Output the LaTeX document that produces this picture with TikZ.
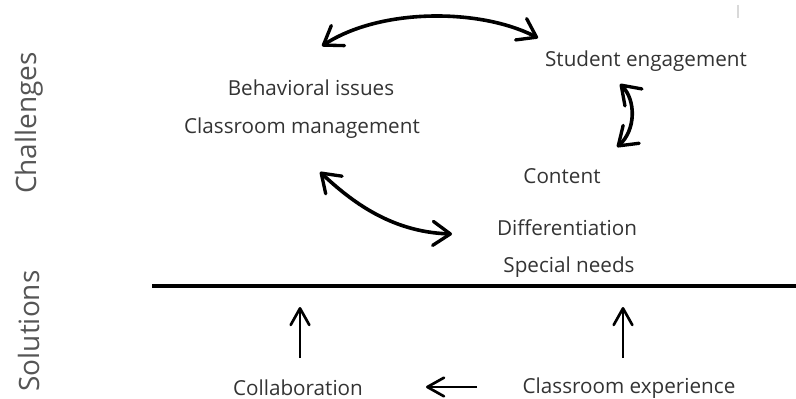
\documentclass[tikz,border=0pt]{standalone}
\usepackage{fontspec}
\setmainfont{Open Sans}
\usetikzlibrary{arrows.meta}
\begin{document}
\begin{tikzpicture}[x=0.75pt,y=-0.75pt,
  item/.style={text=txt,font=\fontsize{15.5}{18}\selectfont,inner sep=0pt},
  side/.style={text=lbl,font=\fontsize{21}{24}\selectfont,rotate=90,inner sep=0pt},
  link/.style={line width=2.7pt,line cap=round,{Straight Barb[length=13pt,width=18pt,line width=2.5pt,round]}-{Straight Barb[length=13pt,width=18pt,line width=2.5pt,round]}},
  push/.style={line width=2pt,-{Straight Barb[length=12.5pt,width=14pt,line width=2pt,round]}}]
\definecolor{txt}{HTML}{333333}
\definecolor{lbl}{HTML}{555555}
\useasboundingbox (0,0) rectangle (796,399);
\node[side] (chal) at (29,123) {Challenges};
\node[side] (sol) at (29,331) {Solutions};
\node[item] (beh) at (311,88) {Behavioral issues};
\node[item] (cm) at (302,128) {Classroom management};
\node[item] (se) at (646,61) {Student engagement};
\node[item] (con) at (562,176) {Content};
\node[item] (diff) at (567,228) {Differentiation};
\node[item] (sn) at (569,267) {Special needs};
\node[item] (col) at (298,388) {Collaboration};
\node[item] (cex) at (629,388) {Classroom experience};
\coordinate (a1) at (322,46);
\coordinate (a2) at (538,38);
\coordinate (b1) at (620,84);
\coordinate (b2) at (617,147);
\coordinate (c1) at (320,172);
\coordinate (c2) at (452,234);
\coordinate (d1) at (300,358);
\coordinate (d2) at (300,307);
\coordinate (e1) at (623,358);
\coordinate (e2) at (623,307);
\coordinate (f1) at (477,387);
\coordinate (f2) at (426,387);
\coordinate (l1) at (152,286);
\coordinate (l2) at (796,286);
\draw[link] (a1) .. controls (380,8) and (480,8) .. (a2);
\draw[link] (b1) .. controls (636,100) and (636,130) .. (b2);
\draw[link] (c1) .. controls (350,200) and (390,232) .. (c2);
\draw[line width=2.7pt] (l1) -- (l2);
\draw[push] (d1) -- (d2);
\draw[push] (e1) -- (e2);
\draw[push] (f1) -- (f2);
\draw[black!15,line width=0.8pt] (738,5) -- (738,18);
\end{tikzpicture}
\end{document}
